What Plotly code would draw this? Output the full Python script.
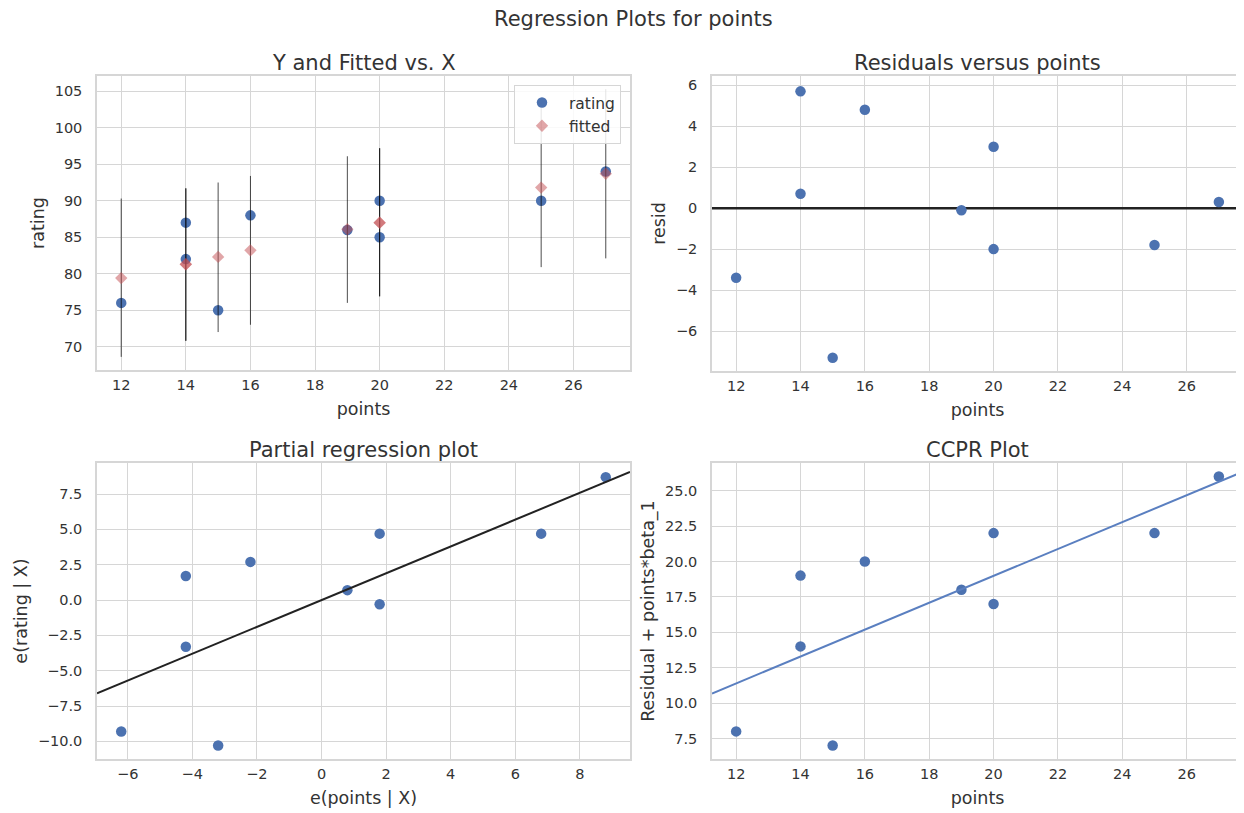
import plotly.graph_objects as go

# ---------------- data ----------------
points = [12, 14, 14, 15, 16, 19, 20, 20, 25, 27]
rating = [76, 87, 82, 75, 88, 86, 90, 85, 90, 94]
fitted = [79.4, 81.3, 81.3, 82.3, 83.2, 86.1, 87.0, 87.0, 91.8, 93.7]
pred_lower = [68.6, 70.8, 70.8, 72.0, 73.0, 76.0, 76.9, 76.9, 80.9, 82.1]
pred_upper = [90.3, 91.7, 91.7, 92.5, 93.4, 96.1, 97.2, 97.2, 102.7, 105.3]
resid = [-3.4, 5.7, 0.7, -7.3, 4.8, -0.1, 3.0, -2.0, -1.8, 0.3]
e_points = [-6.2, -4.2, -4.2, -3.2, -2.2, 0.8, 1.8, 1.8, 6.8, 8.8]
e_rating = [-9.3, 1.7, -3.3, -10.3, 2.7, 0.7, 4.7, -0.3, 4.7, 8.7]
ccpr = [8, 19, 14, 7, 20, 18, 22, 17, 22, 26]
beta_1 = 0.949

# axis ranges
x_points_range = [11.25, 27.75]
y_fit_range = [66.8, 107.1]
y_resid_range = [-7.95, 6.45]
x_part_range = [-6.95, 9.55]
y_part_range = [-11.25, 9.7]
y_ccpr_range = [6.05, 26.95]

# ---------------- styling ----------------
OFF = 8  # page body margin of the html
W, H = 1244 - OFF, 813 - OFF
BLUE = "#4C72B0"
RED_A = "rgba(196,78,82,0.5)"
TXT = "#333333"
GRID = "#d6d6d6"
FONT = "DejaVu Sans"


def px_x(p):
    return (p - OFF) / W


def px_y(p):
    return 1 - (p - OFF) / H


dom = {
    "tl": ([px_x(97), px_x(630)], [px_y(370), px_y(76)]),
    "tr": ([px_x(712), px_x(1243)], [px_y(371), px_y(76)]),
    "bl": ([px_x(97), px_x(630)], [px_y(759), px_y(463)]),
    "br": ([px_x(712), px_x(1243)], [px_y(759), px_y(463)]),
}

fig = go.Figure()

# --- top-left: Y and fitted vs X
fig.add_trace(go.Scatter(x=points, y=rating, mode="markers", name="rating",
                         marker=dict(color=BLUE, size=10.5), xaxis="x", yaxis="y"))
vx, vy = [], []
for xv, lo, hi in zip(points, pred_lower, pred_upper):
    vx += [xv, xv, None]
    vy += [lo, hi, None]
fig.add_trace(go.Scatter(x=vx, y=vy, mode="lines", showlegend=False,
                         line=dict(color="rgba(0,0,0,0.7)", width=1),
                         xaxis="x", yaxis="y", hoverinfo="skip"))
fig.add_trace(go.Scatter(x=points, y=fitted, mode="markers", name="fitted",
                         marker=dict(color=RED_A, size=9.5, symbol="diamond"),
                         xaxis="x", yaxis="y"))

# --- top-right: residuals
fig.add_trace(go.Scatter(x=x_points_range, y=[0, 0], mode="lines", showlegend=False,
                         line=dict(color="#222222", width=2.5), xaxis="x2", yaxis="y2"))
fig.add_trace(go.Scatter(x=points, y=resid, mode="markers", showlegend=False,
                         marker=dict(color=BLUE, size=10.5), xaxis="x2", yaxis="y2"))

# --- bottom-left: partial regression
fig.add_trace(go.Scatter(x=e_points, y=e_rating, mode="markers", showlegend=False,
                         marker=dict(color=BLUE, size=10.5), xaxis="x3", yaxis="y3"))
fig.add_trace(go.Scatter(x=x_part_range, y=[beta_1 * v for v in x_part_range],
                         mode="lines", showlegend=False,
                         line=dict(color="#222222", width=2), xaxis="x3", yaxis="y3"))

# --- bottom-right: CCPR
fig.add_trace(go.Scatter(x=points, y=ccpr, mode="markers", showlegend=False,
                         marker=dict(color=BLUE, size=10.5), xaxis="x4", yaxis="y4"))
fig.add_trace(go.Scatter(x=x_points_range, y=[beta_1 * v for v in x_points_range],
                         mode="lines", showlegend=False,
                         line=dict(color="#5a7fc0", width=2), xaxis="x4", yaxis="y4"))


def axis(domain, rng, title, anchor, dtick, fmt=None, tick0=None, is_x=True):
    d = dict(domain=domain, range=rng, anchor=anchor,
             showgrid=True, gridcolor=GRID, gridwidth=1,
             showline=True, linecolor=GRID, linewidth=1.5, mirror=True,
             zeroline=False, dtick=dtick,
             ticks="outside", ticklen=1 if is_x else 10, tickcolor="rgba(0,0,0,0)",
             tickfont=dict(family=FONT, size=14.5, color=TXT),
             title=dict(text=title, font=dict(family=FONT, size=17.5, color=TXT),
                        standoff=11 if is_x else 6))
    if fmt:
        d["tickformat"] = fmt
    if tick0 is not None:
        d["tick0"] = tick0
    return d


layout = dict(
    width=W, height=H, margin=dict(l=0, r=0, t=0, b=0),
    paper_bgcolor="white", plot_bgcolor="white",
    font=dict(family=FONT, color=TXT),
    xaxis=axis(dom["tl"][0], x_points_range, "points", "y", 2),
    yaxis=axis(dom["tl"][1], y_fit_range, "rating", "x", 5, is_x=False),
    xaxis2=axis(dom["tr"][0], x_points_range, "points", "y2", 2),
    yaxis2=axis(dom["tr"][1], y_resid_range, "resid", "x2", 2, is_x=False),
    xaxis3=axis(dom["bl"][0], x_part_range, "e(points | X)", "y3", 2),
    yaxis3=axis(dom["bl"][1], y_part_range, "e(rating | X)", "x3", 2.5, ".1f", 0, is_x=False),
    xaxis4=axis(dom["br"][0], x_points_range, "points", "y4", 2),
    yaxis4=axis(dom["br"][1], y_ccpr_range, "Residual + points*beta_1", "x4", 2.5, ".1f", 0,
                is_x=False),
    showlegend=True,
    legend=dict(x=px_x(621), y=px_y(85), xanchor="right", yanchor="top",
                bgcolor="rgba(255,255,255,0.85)", bordercolor="#d6d6d6", borderwidth=1,
                font=dict(family=FONT, size=15.5, color=TXT), itemwidth=44),
)
fig.update_layout(**layout)

titles = [("Y and Fitted vs. X", "tl"), ("Residuals versus points", "tr"),
          ("Partial regression plot", "bl"), ("CCPR Plot", "br")]
for text, key in titles:
    xd, yd = dom[key]
    fig.add_annotation(text=text, x=(xd[0] + xd[1]) / 2, y=yd[1], xref="paper", yref="paper",
                       xanchor="center", yanchor="bottom", yshift=-1, showarrow=False,
                       font=dict(family=FONT, size=21, color=TXT))
fig.add_annotation(text="Regression Plots for points", x=px_x(633), y=px_y(19),
                   xref="paper", yref="paper", xanchor="center", yanchor="middle",
                   showarrow=False, font=dict(family=FONT, size=21, color=TXT))

fig.write_html("out.html")
